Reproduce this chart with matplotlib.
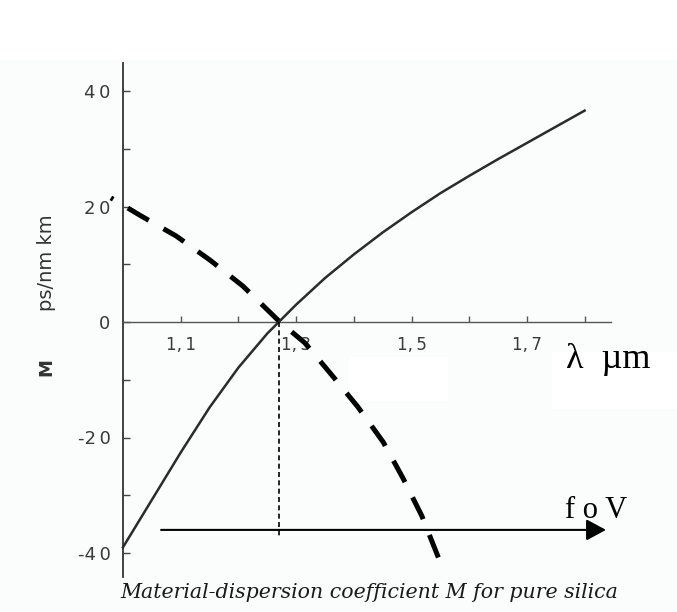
import matplotlib
matplotlib.use("Agg")
import matplotlib.pyplot as plt
from matplotlib.patches import Rectangle, FancyArrowPatch

# material dispersion of pure silica, M in ps/(nm km) against wavelength in um
wavelength = [1.00, 1.05, 1.10, 1.15, 1.20, 1.25, 1.27, 1.30, 1.35, 1.40,
              1.45, 1.50, 1.55, 1.60, 1.65, 1.70, 1.75, 1.80]
dispersion = [-39.0, -30.8, -22.6, -14.8, -7.9, -2.0, 0.0, 3.0, 7.6, 11.7,
              15.5, 19.0, 22.3, 25.3, 28.2, 31.0, 33.8, 36.6]

# hand-drawn dashed curve over the plot
sketch_x = [0.979, 1.029, 1.092, 1.151, 1.208, 1.272, 1.315, 1.362, 1.407,
            1.451, 1.485, 1.518, 1.553]
sketch_y = [21.5, 18.5, 14.9, 10.7, 6.2, 0.0, -3.6, -9.2, -14.7, -20.8,
            -27.0, -33.6, -42.4]

zero_wl = 1.27          # zero-dispersion wavelength
drop_to = -37.4         # bottom of the vertical marker
arrow_y = -36.0
arrow_from, arrow_to = 1.066, 1.837

y_major = [-40, -20, 0, 20, 40]
y_labels = ["-4\u20090", "-2\u20090", "0", "2\u20090", "4\u20090"]
y_minor = [-30, -10, 10, 30]
x_major = [1.1, 1.3, 1.5, 1.7]
x_labels = ["1,\u20091", "1,\u20093", "1,\u20095", "1,\u20097"]
x_minor = [1.2, 1.4, 1.6, 1.8]

W, H = 677, 612
fig = plt.figure(figsize=(W / 100, H / 100), dpi=100)
fig.patch.set_facecolor("white")

def px(x, y):
    return x / W, 1 - y / H

# faint scan tone below the top margin, with a couple of clean patches
fig.patches.append(Rectangle(px(0, H), 1, 1 - 60 / H, transform=fig.transFigure,
                             color="#fbfcfc", zorder=-2))
for x0, y0, x1, y1 in [(552, 352, 677, 408), (350, 357, 447, 400)]:
    fig.patches.append(Rectangle(px(x0, y1), (x1 - x0) / W, (y1 - y0) / H,
                                 transform=fig.transFigure, color="white",
                                 zorder=-1))

ax = fig.add_axes([0, 0, 1, 1])
ax.patch.set_alpha(0)
ax.set_xlim(1.0 - 123 / 577, 1.0 + (W - 123) / 577)
ax.set_ylim(-(H - 322) / 5.775, 322 / 5.775)

for side in ["top", "right"]:
    ax.spines[side].set_visible(False)
ax.spines["left"].set_position(("data", 1.0))
ax.spines["left"].set_bounds(-44.2, 44.8)
ax.spines["bottom"].set_position(("data", 0))
ax.spines["bottom"].set_bounds(1.0, 1.845)
ax.spines["left"].set_color("#333333")
ax.spines["bottom"].set_color("#555555")
ax.spines["left"].set_linewidth(1.3)
ax.spines["bottom"].set_linewidth(1.0)

ax.set_yticks(y_major)
ax.set_yticklabels(y_labels)
ax.set_yticks(y_minor, minor=True)
ax.set_xticks(x_major)
ax.set_xticklabels(x_labels)
ax.set_xticks(x_minor, minor=True)
ax.tick_params(axis="y", which="both", direction="in", length=5, width=1,
               color="#444444", labelsize=13, labelcolor="#3a3a3a", pad=9)
ax.tick_params(axis="x", which="both", direction="in", length=4, width=1,
               color="#555555", labelsize=12, labelcolor="#3a3a3a", pad=10)

ax.plot(wavelength, dispersion, color="#2b2b2b", lw=1.8, zorder=3)

# dash patterns are in multiples of the line width
ax.plot([zero_wl, zero_wl], [0, drop_to], color="black", lw=1.2,
        linestyle=(0, (3.0, 2.0)), zorder=3)

ax.plot(sketch_x, sketch_y, color="black", lw=3.6, solid_capstyle="butt",
        dash_capstyle="butt", linestyle=(4.3, (4.85, 3.4)), zorder=4,
        clip_on=False)

ax.add_patch(FancyArrowPatch((arrow_from, arrow_y), (arrow_to, arrow_y),
                             arrowstyle="-|>,head_length=12,head_width=6.5",
                             mutation_scale=1, color="black", lw=1.5,
                             shrinkA=0, shrinkB=0, zorder=4))

fig.text(*px(46, 367), "M", rotation=90, ha="center", va="center",
         fontsize=13, fontweight="bold", color="#333333")
fig.text(*px(46, 263), "ps/nm km", rotation=90, ha="center", va="center",
         fontsize=14, color="#333333")

fig.text(*px(369, 593), "Material-dispersion coefficient M for pure silica",
         ha="center", va="center", family="DejaVu Serif", style="italic",
         fontsize=14.8, color="#1a1a1a")

fig.text(*px(608, 360), "\u03bb  \u00b5m", ha="center", va="center",
         family="Liberation Serif", fontsize=26, color="black")
fig.text(*px(596, 511), "f o V", ha="center", va="center",
         family="Liberation Serif", fontsize=22, color="black")

fig.savefig("out.png", dpi=100)
